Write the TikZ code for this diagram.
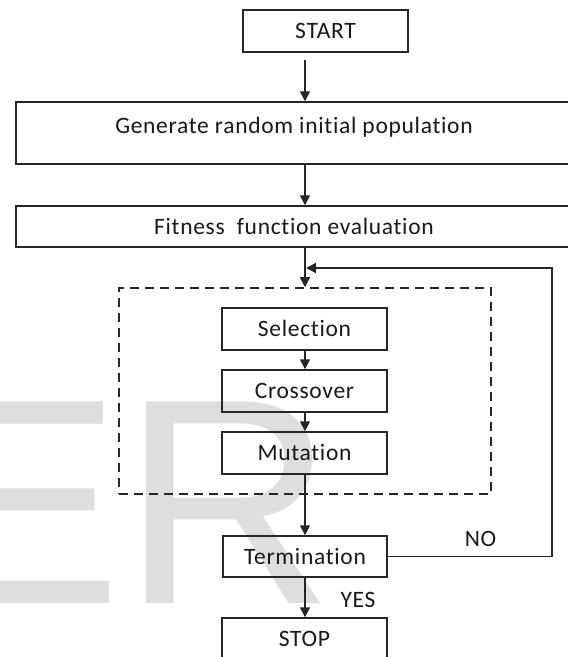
\documentclass[tikz,border=0pt]{standalone}
\usepackage{fontspec}
\setmainfont{Carlito}[LetterSpace=3,Ligatures={NoCommon}]
\newfontfamily\wmfont{Liberation Sans}
\usetikzlibrary{arrows.meta}
\tikzset{
  box/.style={draw=black!85, line width=1.5pt, minimum height=42pt, inner sep=0pt,
    font=\fontsize{23.5}{28}\selectfont, text=black!90, text height=15pt, text depth=0pt},
  arr/.style={line width=1.5pt, draw=black!85, -{Triangle[length=10pt,width=10pt]}},
  lbl/.style={font=\fontsize{23.5}{28}\selectfont, text=black!90, inner sep=0pt},
  grpbox/.style={draw=black!85, line width=1.6pt, dash pattern=on 9pt off 6pt, inner sep=0pt},
}
\begin{document}
\begin{tikzpicture}[x=1pt,y=-1pt]
\useasboundingbox (0,0) rectangle (568,657);
\clip (0,0) rectangle (568,657);
\fill[white] (0,0) rectangle (568,657);
% watermark
\node[anchor=base west, inner sep=0pt, text=black!13, font=\wmfont\fontsize{293}{293}\selectfont] (wm) at (-73.4,603) {ER};
% boxes
\node[box, minimum width=165pt] (start) at (325.5,31) {START};
\node[box, minimum width=556pt, minimum height=62pt, text height=16pt, text depth=16pt] (gen) at (294,133) {Generate random initial population};
\node[box, minimum width=556pt, minimum height=41pt] (fit) at (294,226.5) {Fitness\ \ function evaluation};
\node[grpbox, minimum width=372pt, minimum height=206pt] (grp) at (305,391) {};
\node[box, minimum width=165pt] (sel) at (304.5,329) {Selection};
\node[box, minimum width=165pt] (cross) at (304.5,391) {Crossover};
\node[box, minimum width=165pt] (mut) at (304.5,453) {Mutation};
\node[box, minimum width=164pt, minimum height=41pt] (term) at (305,556.5) {Termination};
\node[box, minimum width=165pt] (stop) at (304.5,639) {STOP};
% connectors
\coordinate (s0) at (305,60);
\coordinate (fbc) at (552,268);
\draw[arr] (s0) -- (s0 |- gen.north);
\draw[arr] (gen.south -| s0) -- (fit.north -| s0);
\draw[arr] (fit.south -| s0) -- (grp.north -| s0);
\draw[arr] (sel.south -| s0) -- (cross.north -| s0);
\draw[arr] (cross.south -| s0) -- (mut.north -| s0);
\draw[arr] (mut.south -| s0) -- (term.north -| s0);
\draw[arr] (term.south -| s0) -- (stop.north -| s0);
\draw[arr] (term.east) -| (fbc) -- ([xshift=1pt]fbc -| s0);
% labels
\node[lbl] (yes) at (358,600) {YES};
\node[lbl] (no) at (480.5,539) {NO};
\end{tikzpicture}
\end{document}
